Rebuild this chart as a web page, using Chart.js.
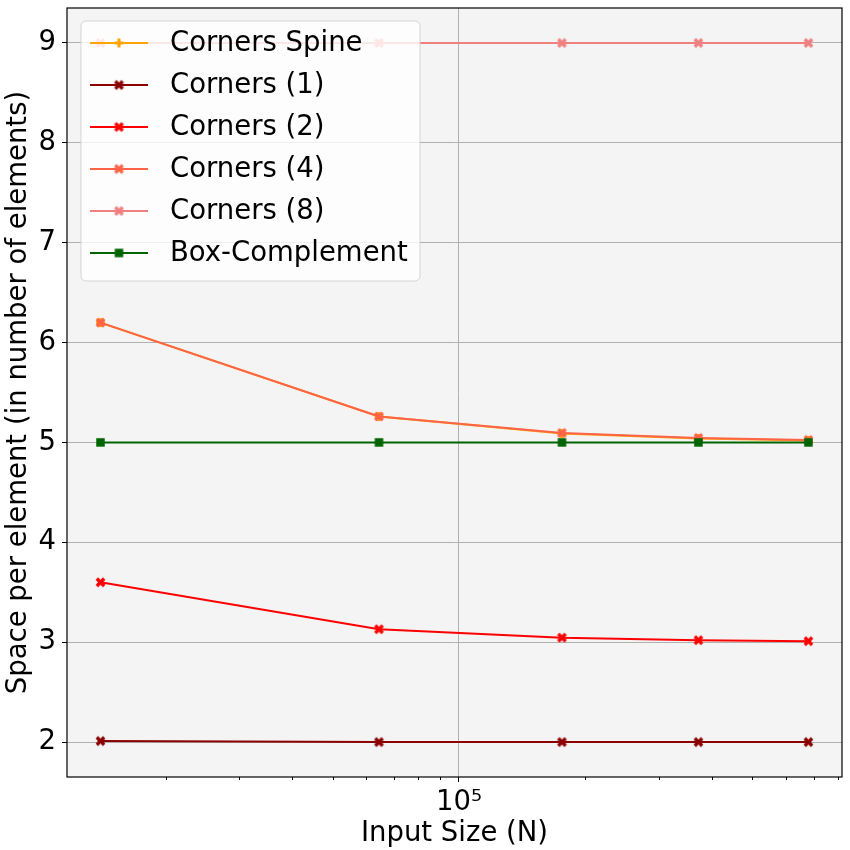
<!DOCTYPE html>
<html>
<head>
<meta charset="utf-8">
<script src="https://cdn.jsdelivr.net/npm/chart.js@4.4.1/dist/chart.umd.min.js"></script>
<style>
  body { margin: 0; background: #ffffff; }
  canvas { display: block; }
</style>
</head>
<body>
<canvas id="chart" width="850" height="850"></canvas>
<script>
// input sizes (x) and space per element for each structure
const sizes = [14000, 64500, 176000, 372000, 680000];
const cornersSpine = [6.2, 5.26, 5.09, 5.04, 5.02];
const corners1 = [2.01, 2.0, 2.0, 2.0, 2.0];
const corners2 = [3.6, 3.13, 3.045, 3.02, 3.01];
const corners4 = [6.2, 5.26, 5.095, 5.045, 5.025];
const corners8 = [9, 9, 9, 9, 9];
const boxComplement = [5, 5, 5, 5, 5];

const seriesLabels = ['Corners Spine', 'Corners (1)', 'Corners (2)', 'Corners (4)', 'Corners (8)', 'Box-Complement'];
const yTicks = [2, 3, 4, 5, 6, 7, 8, 9];
const xMajorTicks = [1e5];
const xMinorTicks = [2e4, 3e4, 4e4, 5e4, 6e4, 7e4, 8e4, 9e4, 2e5, 3e5, 4e5, 5e5, 6e5, 7e5, 8e5];

const FONT = 'DejaVu Sans';
const FONT_SIZE = 27.5;

// matplotlib-like filled markers drawn on small canvases
function makeMarker(kind, color, size) {
    const c = document.createElement('canvas');
    const dim = Math.ceil(size) + 4;
    c.width = dim;
    c.height = dim;
    const g = c.getContext('2d');
    g.translate(dim / 2, dim / 2);
    g.fillStyle = color;
    if (kind === 'square') {
        g.fillRect(-size / 2, -size / 2, size, size);
    } else {
        // filled plus, rotated for the X
        const u = size / 6;
        const pts = [[-1,-3],[1,-3],[1,-1],[3,-1],[3,1],[1,1],[1,3],[-1,3],[-1,1],[-3,1],[-3,-1],[-1,-1]];
        if (kind === 'x') g.rotate(Math.PI / 4);
        g.beginPath();
        pts.forEach((p, i) => {
            if (i === 0) g.moveTo(p[0] * u, p[1] * u);
            else g.lineTo(p[0] * u, p[1] * u);
        });
        g.closePath();
        g.fill();
    }
    return c;
}

const colors = ['#ffa500', '#8b0000', '#ff0000', '#ff6347', '#f08080', '#006400'];
const markers = [
    makeMarker('plus', colors[0], 9),
    makeMarker('x', colors[1], 10.5),
    makeMarker('x', colors[2], 10.5),
    makeMarker('x', colors[3], 10.5),
    makeMarker('x', colors[4], 10.5),
    makeMarker('square', colors[5], 8.5)
];
const values = [cornersSpine, corners1, corners2, corners4, corners8, boxComplement];

const datasets = values.map((vals, i) => ({
    label: seriesLabels[i],
    data: vals.map((v, j) => ({ x: sizes[j], y: v })),
    borderColor: colors[i],
    backgroundColor: colors[i],
    borderWidth: 2,
    pointStyle: markers[i],
    pointRadius: 5,
    order: values.length - i,
    tension: 0
}));

// plot background, frame and the short minor ticks
const frame = {
    id: 'frame',
    beforeDraw(chart) {
        const a = chart.chartArea;
        const ctx = chart.ctx;
        ctx.save();
        ctx.fillStyle = '#f4f4f4';
        ctx.fillRect(a.left, a.top, a.right - a.left, a.bottom - a.top);
        ctx.restore();
    },
    afterDraw(chart) {
        const a = chart.chartArea;
        const ctx = chart.ctx;
        const xs = chart.scales.x;
        ctx.save();
        ctx.strokeStyle = '#000000';
        ctx.lineWidth = 1;
        xMinorTicks.forEach(v => {
            const px = Math.round(xs.getPixelForValue(v)) + 0.5;
            ctx.beginPath();
            ctx.moveTo(px, a.bottom);
            ctx.lineTo(px, a.bottom + 3);
            ctx.stroke();
        });
        ctx.lineWidth = 1.2;
        ctx.strokeRect(a.left, a.top, a.right - a.left, a.bottom - a.top);
        ctx.restore();
    }
};

// legend drawn inside the plot, matplotlib style
const mplLegend = {
    id: 'mplLegend',
    afterDatasetsDraw(chart) {
        const ctx = chart.ctx;
        const a = chart.chartArea;
        const x0 = a.left + 14, y0 = a.top + 13;
        const w = 339, h = 260, r = 5;
        ctx.save();
        ctx.beginPath();
        ctx.roundRect(x0, y0, w, h, r);
        ctx.fillStyle = 'rgba(255,255,255,0.8)';
        ctx.fill();
        ctx.strokeStyle = 'rgba(204,204,204,0.8)';
        ctx.lineWidth = 1;
        ctx.stroke();
        ctx.font = FONT_SIZE + 'px "' + FONT + '"';
        ctx.textBaseline = 'middle';
        chart.data.datasets.forEach((ds, i) => {
            const y = y0 + 22 + i * 42;
            ctx.strokeStyle = ds.borderColor;
            ctx.lineWidth = 2;
            ctx.beginPath();
            ctx.moveTo(x0 + 9, y);
            ctx.lineTo(x0 + 67, y);
            ctx.stroke();
            Chart.helpers.drawPoint(ctx, { pointStyle: ds.pointStyle, radius: 5, rotation: 0 }, x0 + 38, y);
            ctx.fillStyle = '#000000';
            ctx.fillText(ds.label, x0 + 89, y + 1);
        });
        ctx.restore();
    }
};

const ctx = document.getElementById('chart').getContext('2d');
const chart = new Chart(ctx, {
    type: 'line',
    data: { datasets: datasets },
    plugins: [frame, mplLegend],
    options: {
        responsive: false,
        animation: false,
        layout: { padding: { left: 0, right: 8, top: 8, bottom: 0 } },
        font: { family: FONT },
        plugins: {
            legend: { display: false },
            tooltip: { enabled: false }
        },
        scales: {
            x: {
                type: 'logarithmic',
                min: 11650,
                max: 817700,
                afterBuildTicks(scale) {
                    scale.ticks = xMajorTicks.concat(xMinorTicks).sort((p, q) => p - q).map(v => ({ value: v }));
                },
                afterFit(scale) {
                    scale.height = 73;
                    scale.paddingLeft = 0;
                    scale.paddingRight = 0;
                },
                grid: {
                    color: c => (c.tick && xMajorTicks.includes(c.tick.value)) ? '#b0b0b0' : 'rgba(0,0,0,0)',
                    tickColor: c => (c.tick && xMajorTicks.includes(c.tick.value)) ? '#000000' : 'rgba(0,0,0,0)',
                    tickLength: 5,
                    lineWidth: 1
                },
                border: { display: false },
                ticks: {
                    autoSkip: false,
                    maxRotation: 0,
                    padding: 4,
                    color: '#000000',
                    font: { family: FONT, size: FONT_SIZE },
                    callback: v => xMajorTicks.includes(v) ? '10\u2075' : ''
                },
                title: {
                    display: true,
                    text: 'Input Size (N)',
                    color: '#000000',
                    font: { family: FONT, size: FONT_SIZE },
                    padding: { top: 0, bottom: 0 }
                }
            },
            y: {
                type: 'linear',
                min: 1.65,
                max: 9.35,
                afterBuildTicks(scale) {
                    scale.ticks = yTicks.map(v => ({ value: v }));
                },
                afterFit(scale) {
                    scale.width = 67;
                    scale.paddingTop = 0;
                    scale.paddingBottom = 0;
                },
                grid: {
                    color: '#b0b0b0',
                    tickColor: '#000000',
                    tickLength: 5,
                    lineWidth: 1
                },
                border: { display: false },
                ticks: {
                    padding: 6,
                    color: '#000000',
                    font: { family: FONT, size: FONT_SIZE },
                    callback: v => String(v)
                },
                title: {
                    display: true,
                    text: 'Space per element (in number of elements)',
                    color: '#000000',
                    font: { family: FONT, size: FONT_SIZE },
                    padding: { top: 2, bottom: 0 }
                }
            }
        }
    }
});
</script>
</body>
</html>
